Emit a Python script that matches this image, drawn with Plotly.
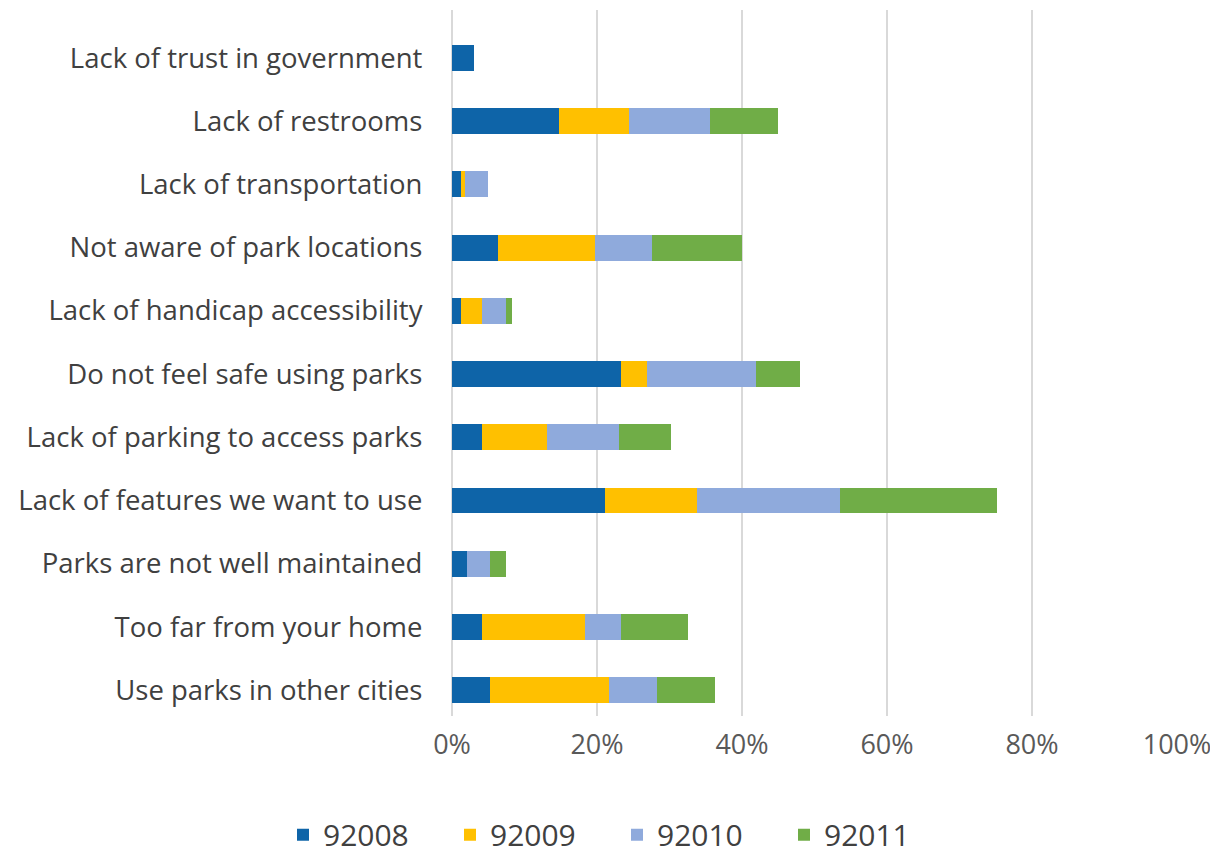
import plotly.graph_objects as go

categories = [
    "Lack of trust in government",
    "Lack of restrooms",
    "Lack of transportation",
    "Not aware of park locations",
    "Lack of handicap accessibility",
    "Do not feel safe using parks",
    "Lack of parking to access parks",
    "Lack of features we want to use",
    "Parks are not well maintained",
    "Too far from your home",
    "Use parks in other cities",
]
s92008 = [3.1, 14.7, 1.2, 6.4, 1.2, 23.3, 4.2, 21.1, 2.0, 4.2, 5.3]
s92009 = [0.0, 9.7, 0.55, 13.3, 3.0, 3.6, 8.9, 12.7, 0.0, 14.1, 16.3]
s92010 = [0.0, 11.2, 3.25, 7.9, 3.3, 15.0, 10.0, 19.7, 3.2, 5.0, 6.7]
s92011 = [0.0, 9.4, 0.0, 12.4, 0.8, 6.1, 7.1, 21.7, 2.3, 9.2, 8.0]
tick_vals = [0, 0.2, 0.4, 0.6, 0.8, 1.0]
tick_text = ["0%", "20%", "40%", "60%", "80%", "100%"]

series = [("92008", s92008, "#0e64a8"), ("92009", s92009, "#ffc000"),
          ("92010", s92010, "#8faadc"), ("92011", s92011, "#70ad47")]

fig = go.Figure()
for name, vals, col in series:
    fig.add_trace(go.Bar(y=categories, x=[v / 100 for v in vals], name=name, orientation="h",
                         marker=dict(color=col, line=dict(width=0))))

font = "'Open Sans', sans-serif"
n = len(categories)
fig.update_layout(
    barmode="stack", bargap=0.59,
    width=1218, height=854,
    margin=dict(l=444, r=49, t=2, b=146),
    paper_bgcolor="white", plot_bgcolor="white",
    font=dict(family=font, size=27, color="#404040"),
    xaxis=dict(range=[0, 1], tickvals=tick_vals, ticktext=tick_text, showgrid=True,
               gridcolor="#d9d9d9", gridwidth=1.5, zeroline=True, zerolinecolor="#d9d9d9",
               zerolinewidth=1.5, showline=False, ticks="", ticklen=0, automargin=False,
               ticklabelstandoff=10, tickfont=dict(size=27, color="#595959")),
    yaxis=dict(range=[n - 1 + 0.41, -0.76], showgrid=False, ticks="", showline=False,
               automargin=False, ticksuffix="    ", tickfont=dict(size=27.5, color="#404040")),
    legend=dict(orientation="h", xref="container", x=0.5, xanchor="center",
                yref="container", y=0.032, yanchor="middle",
                font=dict(size=30, color="#404040"), itemwidth=30,
                traceorder="normal", entrywidthmode="pixels", entrywidth=122),
)
fig.write_html("out.html")
